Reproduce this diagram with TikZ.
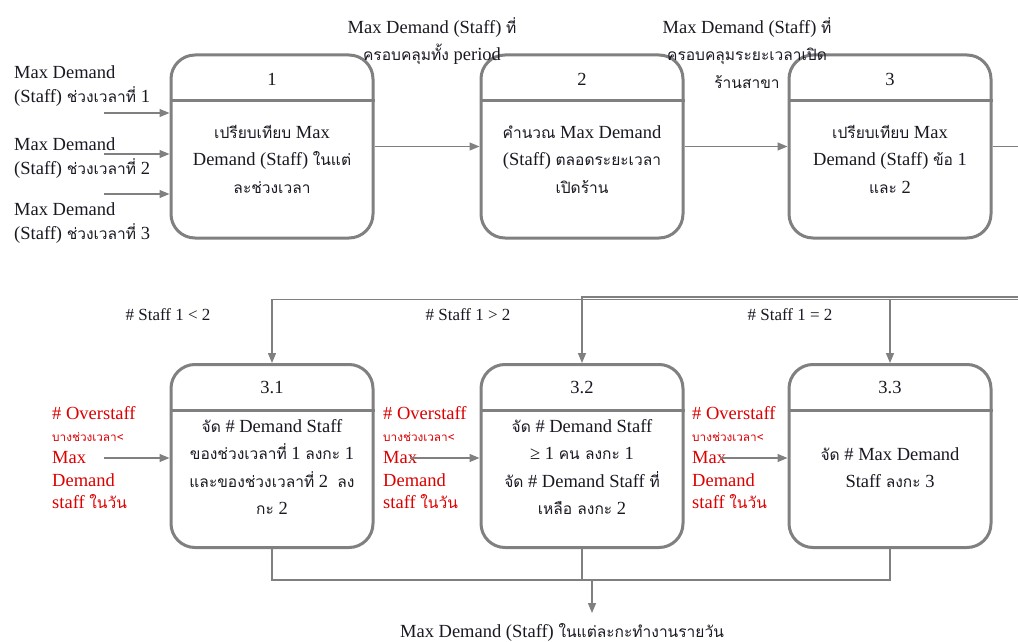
\documentclass[tikz,border=0pt]{standalone}
\usepackage{fontspec}
\setmainfont{Liberation Serif}
\newfontfamily\thaifont[Script=Thai,Scale=0.84]{Loma}
\newcommand\thx[1]{{\thaifont #1}}
\newcommand\firstln{\rule{0pt}{15pt}}
\usetikzlibrary{arrows.meta}
\definecolor{ink}{RGB}{25,25,35}
\definecolor{edge}{RGB}{128,128,128}
\definecolor{alert}{RGB}{220,0,0}
\tikzset{
  proc/.style={draw=edge, line width=3pt, rounded corners=24pt,
    minimum width=202pt, minimum height=183pt, inner sep=0pt},
  divider/.style={draw=edge, line width=3pt},
  txt/.style={text=ink, inner sep=0pt, align=center,
    font=\fontsize{18.5}{27.5}\selectfont},
  lbl/.style={text=ink, inner sep=0pt, align=left,
    font=\fontsize{18.5}{24}\selectfont},
  cond/.style={text=ink, inner sep=0pt, font=\fontsize{17}{20}\selectfont},
  note/.style={text=alert, inner sep=0pt, align=left,
    font=\fontsize{18.5}{22.3}\selectfont},
  ln/.style={draw=edge, line width=1.3pt},
  arr/.style={draw=edge, line width=1.3pt, -{Triangle[length=10pt,width=8pt]}}
}
\begin{document}
\begin{tikzpicture}[x=1pt,y=-1pt]
\fill[white] (0,0) rectangle (1018,642);
\useasboundingbox (0,0) rectangle (1018,642);

% process boxes
\node[proc] (p1) at (272,146.5) {};
\node[proc] (p2) at (582,146.5) {};
\node[proc] (p3) at (890,146.5) {};
\node[proc] (p31) at (272,456) {};
\node[proc] (p32) at (582,456) {};
\node[proc] (p33) at (890,456) {};
\foreach \b in {p1,p2,p3,p31,p32,p33}
  \draw[divider] ([yshift=-47pt]\b.north west) -- ([yshift=-47pt]\b.north east);

% box numbers
\node[txt, anchor=base] (n1) at (272,85) {1};
\node[txt, anchor=base] (n2) at (582,85) {2};
\node[txt, anchor=base] (n3) at (890,85) {3};
\node[txt, anchor=base] (n31) at (272,393) {3.1};
\node[txt, anchor=base] (n32) at (582,393) {3.2};
\node[txt, anchor=base] (n33) at (890,393) {3.3};

% box contents
\node[txt, anchor=north] (d1) at (272,123) {\firstln\thx{เปรียบเทียบ} Max\\Demand (Staff) \thx{ในแต่}\\\thx{ละช่วงเวลา}};
\node[txt, anchor=north] (d2) at (582,123) {\firstln\thx{คำนวณ} Max Demand\\(Staff) \thx{ตลอดระยะเวลา}\\\thx{เปิดร้าน}};
\node[txt, anchor=north] (d3) at (890,123) {\firstln\thx{เปรียบเทียบ} Max\\Demand (Staff) \thx{ข้อ} 1\\\thx{และ} 2};
\node[txt, anchor=north] (d31) at (272,417) {\firstln\thx{จัด} \# Demand Staff\\\thx{ของช่วงเวลาที่} 1 \thx{ลงกะ} 1\\\thx{และของช่วงเวลาที่} 2 \ \thx{ลง}\\\thx{กะ} 2};
\node[txt, anchor=north] (d32) at (582,417) {\firstln\thx{จัด} \# Demand Staff\\≥ 1 \thx{คน ลงกะ} 1\\\thx{จัด} \# Demand Staff \thx{ที่}\\\thx{เหลือ ลงกะ} 2};
\node[txt, anchor=north] (d33) at (890,445) {\firstln\thx{จัด} \# Max Demand\\Staff \thx{ลงกะ} 3};

% inputs to box 1
\node[lbl, anchor=north west] (in1) at (14,63) {\firstln Max Demand\\(Staff) \thx{ช่วงเวลาที่} 1};
\node[lbl, anchor=north west] (in2) at (14,135) {\firstln Max Demand\\(Staff) \thx{ช่วงเวลาที่} 2};
\node[lbl, anchor=north west] (in3) at (14,200) {\firstln Max Demand\\(Staff) \thx{ช่วงเวลาที่} 3};
\coordinate (i1) at (104,113);
\coordinate (i2) at (104,154);
\coordinate (i3) at (104,194);
\draw[arr] (i1) -- (i1 -| p1.west);
\draw[arr] (i2) -- (i2 -| p1.west);
\draw[arr] (i3) -- (i3 -| p1.west);

% top row flow
\node[txt, anchor=north] (f12) at (432,17) {\firstln Max Demand (Staff) \thx{ที่}\\\thx{ครอบคลุมทั้ง} period};
\node[txt, anchor=north] (f23) at (747,17) {\firstln Max Demand (Staff) \thx{ที่}\\\thx{ครอบคลุมระยะเวลาเปิด}\\\thx{ร้านสาขา}};
\draw[arr] (p1) -- (p2);
\draw[arr] (p2) -- (p3);
\coordinate (e3) at (1018,146.5);
\draw[ln] (p3) -- (e3);

% branches into the second row
\coordinate (r1) at (1018,297);
\coordinate (r2) at (1018,299.5);
\draw[arr] (r2) -| (p31);
\draw[arr] (r1) -| (p32);
\draw[arr] (r2 -| p33) -- (p33);
\node[cond, anchor=base] (c1) at (168,320) {\# Staff 1 < 2};
\node[cond, anchor=base] (c2) at (468,320) {\# Staff 1 > 2};
\node[cond, anchor=base] (c3) at (790,320) {\# Staff 1 = 2};

% overstaff inputs
\node[note, anchor=north west] (o1) at (52,404) {\firstln\# Overstaff\\{\thaifont\fontsize{14}{22.3}\selectfont บางช่วงเวลา<}\\Max\\Demand\\staff \thx{ในวัน}};
\node[note, anchor=north west] (o2) at (383,404) {\firstln\# Overstaff\\{\thaifont\fontsize{14}{22.3}\selectfont บางช่วงเวลา<}\\Max\\Demand\\staff \thx{ในวัน}};
\node[note, anchor=north west] (o3) at (692,404) {\firstln\# Overstaff\\{\thaifont\fontsize{14}{22.3}\selectfont บางช่วงเวลา<}\\Max\\Demand\\staff \thx{ในวัน}};
\coordinate (a1) at (104,458);
\coordinate (a2) at (410,458);
\coordinate (a3) at (720,458);
\draw[arr] (a1) -- (a1 -| p31.west);
\draw[arr] (a2) -- (a2 -| p32.west);
\draw[arr] (a3) -- (a3 -| p33.west);

% merge to the daily result
\coordinate (j) at (582,580);
\draw[ln] (p31.south) |- (j) -| (p33.south);
\draw[ln] (p32.south) -- (j);
\node[txt, anchor=base] (out) at (562,637) {Max Demand (Staff) \thx{ในแต่ละกะทำงานรายวัน}};
\coordinate (j2) at (592,580);
\draw[arr] (j2) -- (j2 |- 0,613);
\end{tikzpicture}
\end{document}
